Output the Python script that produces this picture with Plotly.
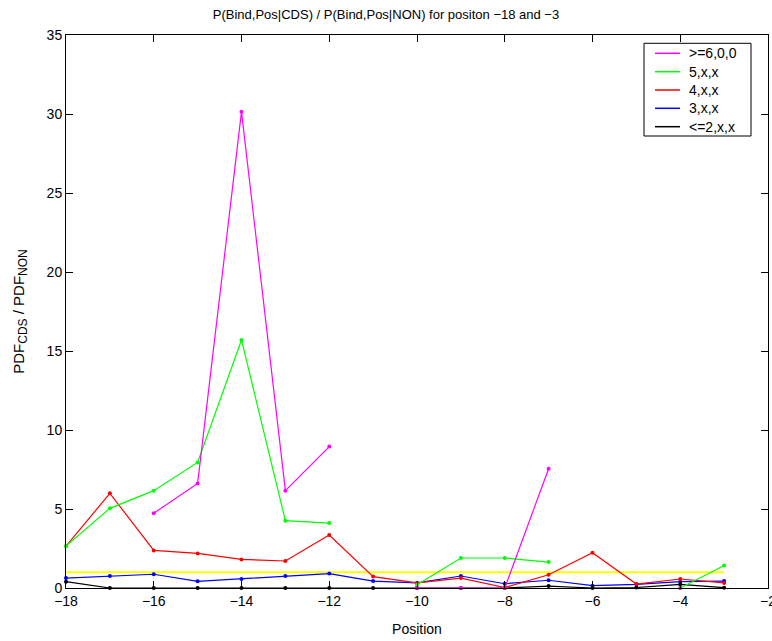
import plotly.graph_objects as go

positions = [-18, -17, -16, -15, -14, -13, -12, -11, -10, -9, -8, -7, -6, -5, -4, -3]

ge6 = [None, None, 4.73, 6.62, 30.15, 6.16, 8.95, None, 0.0, 0.0, 0.0, 7.55, None, None, 0.0, None]
s5 = [2.65, 5.04, 6.16, 7.95, 15.7, 4.26, 4.11, None, 0.2, 1.9, 1.9, 1.64, None, None, 0.0, 1.43]
s4 = [2.65, 5.99, 2.38, 2.19, 1.81, 1.71, 3.35, 0.72, 0.32, 0.63, 0.03, 0.84, 2.23, 0.25, 0.57, 0.32]
s3 = [0.63, 0.76, 0.87, 0.42, 0.57, 0.76, 0.91, 0.44, 0.32, 0.76, 0.27, 0.49, 0.15, 0.23, 0.40, 0.44]
le2 = [0.40, 0.0, 0.0, 0.0, 0.0, 0.0, 0.0, 0.0, 0.0, 0.0, 0.0, 0.12, 0.0, 0.03, 0.23, 0.02]
baseline = [1.0] * len(positions)

names = [">=6,0,0", "5,x,x", "4,x,x", "3,x,x", "<=2,x,x"]
colors = ["#ff00ff", "#00ff00", "#ff0000", "#0000ff", "#000000"]
series = [ge6, s5, s4, s3, le2]

x_ticks = list(range(-18, -1, 2))
y_ticks = list(range(0, 36, 5))

W, H = 772, 641
ML, MR, MT, MB = 66, 4, 35, 53
PW, PH = W - ML - MR, H - MT - MB

def px(x):
    return (x - ML) / PW

def py(y):
    return (H - MB - y) / PH

fig = go.Figure()

fig.add_trace(go.Scatter(x=positions, y=baseline, mode="lines",
                         line=dict(color="#ffff00", width=2), showlegend=False, hoverinfo="skip"))

for name, col, ys in reversed(list(zip(names, colors, series))):
    fig.add_trace(go.Scatter(x=positions, y=ys, mode="lines+markers", connectgaps=False, name=name,
                             line=dict(color=col, width=1.2), marker=dict(color=col, size=4),
                             showlegend=False, cliponaxis=False))

# legend box drawn manually (MATLAB style, tight rows)
shapes = [dict(type="rect", xref="paper", yref="paper", x0=px(644), x1=px(751),
               y0=py(136), y1=py(43.3), line=dict(color="black", width=1), fillcolor="white",
               layer="above")]
annotations = []
row_y = [53.3, 71.7, 90.0, 108.3, 126.7]
for name, col, ry in zip(names, colors, row_y):
    shapes.append(dict(type="line", xref="paper", yref="paper", x0=px(655), x1=px(680),
                       y0=py(ry), y1=py(ry), line=dict(color=col, width=1.5), layer="above"))
    annotations.append(dict(xref="paper", yref="paper", x=px(687), y=py(ry), text=name,
                            showarrow=False, xanchor="left", yanchor="middle",
                            font=dict(size=14, color="black")))

axis_common = dict(showgrid=False, zeroline=False, showline=True, linecolor="black", linewidth=1,
                   mirror="allticks", ticks="inside", ticklen=7, tickcolor="black",
                   tickfont=dict(size=14, color="black"), ticklabeloverflow="allow",
                   automargin=False)

fig.update_layout(
    width=W, height=H,
    margin=dict(l=ML, r=MR, t=MT, b=MB),
    paper_bgcolor="white", plot_bgcolor="white",
    font=dict(family="Liberation Sans, Arial, sans-serif", color="black"),
    showlegend=False,
    hovermode=False,
    title=dict(text="P(Bind,Pos|CDS) / P(Bind,Pos|NON) for positon \u221218 and \u22123",
               x=0.5, xanchor="center", y=0.985, yanchor="top", font=dict(size=13)),
    xaxis=dict(range=[-18, -2], tickvals=x_ticks,
               ticktext=[f"\u2212{abs(v)}" for v in x_ticks],
               title=dict(text="Position", font=dict(size=14), standoff=16), **axis_common),
    yaxis=dict(range=[0, 35], tickvals=y_ticks,
               title=dict(text="PDF<sub><span style='font-size:12px'>CDS</span></sub> / PDF<sub><span style='font-size:12px'>NON</span></sub>",
                          font=dict(size=15), standoff=18),
               **axis_common),
    shapes=shapes,
    annotations=annotations,
)

fig.write_html("out.html")
